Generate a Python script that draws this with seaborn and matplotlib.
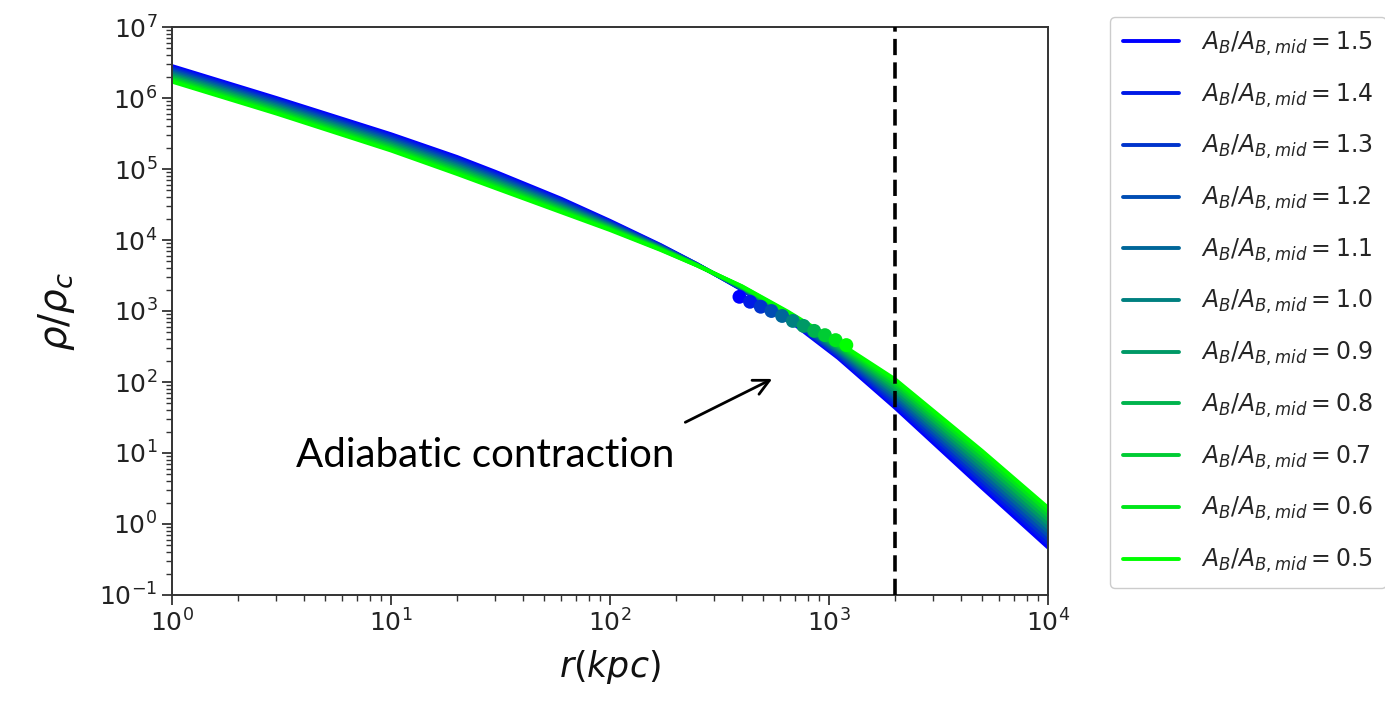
import numpy as np
import pandas as pd
import matplotlib
matplotlib.use("Agg")
import matplotlib.pyplot as plt
import seaborn as sns

# ---- data ----
r_kpc = [1, 3, 10, 20, 30, 60, 100, 170, 250, 400, 650, 1100, 2000, 5000, 10000]

ratios = ["1.5", "1.4", "1.3", "1.2", "1.1", "1.0", "0.9", "0.8", "0.7", "0.6", "0.5"]

log_rho_15 = [6.450, 6.000, 5.490, 5.170, 4.960, 4.580, 4.270, 3.930, 3.660, 3.300, 2.880, 2.340, 1.640, 0.510, -0.330]
log_rho_14 = [6.428, 5.978, 5.467, 5.146, 4.937, 4.561, 4.257, 3.923, 3.658, 3.305, 2.891, 2.362, 1.680, 0.562, -0.274]
log_rho_13 = [6.406, 5.956, 5.444, 5.122, 4.914, 4.542, 4.244, 3.916, 3.656, 3.310, 2.902, 2.384, 1.720, 0.614, -0.218]
log_rho_12 = [6.384, 5.934, 5.421, 5.098, 4.891, 4.523, 4.231, 3.909, 3.654, 3.315, 2.913, 2.406, 1.760, 0.666, -0.162]
log_rho_11 = [6.362, 5.912, 5.398, 5.074, 4.868, 4.504, 4.218, 3.902, 3.652, 3.320, 2.924, 2.428, 1.800, 0.718, -0.106]
log_rho_10 = [6.340, 5.890, 5.375, 5.050, 4.845, 4.485, 4.205, 3.895, 3.650, 3.325, 2.935, 2.450, 1.840, 0.770, -0.050]
log_rho_09 = [6.318, 5.868, 5.352, 5.026, 4.822, 4.466, 4.192, 3.888, 3.648, 3.330, 2.946, 2.472, 1.880, 0.822, 0.006]
log_rho_08 = [6.296, 5.846, 5.329, 5.002, 4.799, 4.447, 4.179, 3.881, 3.646, 3.335, 2.957, 2.494, 1.920, 0.874, 0.062]
log_rho_07 = [6.274, 5.824, 5.306, 4.978, 4.776, 4.428, 4.166, 3.874, 3.644, 3.340, 2.968, 2.516, 1.960, 0.926, 0.118]
log_rho_06 = [6.252, 5.802, 5.283, 4.954, 4.753, 4.409, 4.153, 3.867, 3.642, 3.345, 2.979, 2.538, 2.000, 0.978, 0.174]
log_rho_05 = [6.230, 5.780, 5.260, 4.930, 4.730, 4.390, 4.140, 3.860, 3.640, 3.350, 2.990, 2.560, 2.040, 1.030, 0.230]

dot_r = [390, 436, 488, 546, 611, 684, 765, 856, 958, 1072, 1200]
dot_log_rho = [3.20, 3.13, 3.06, 3.00, 2.93, 2.86, 2.79, 2.72, 2.66, 2.59, 2.52]

r_marker = 2000
annotation_text = "Adiabatic contraction"

curves = [log_rho_15, log_rho_14, log_rho_13, log_rho_12, log_rho_11, log_rho_10,
          log_rho_09, log_rho_08, log_rho_07, log_rho_06, log_rho_05]

# ---- style ----
sns.set_style("ticks")
plt.rcParams["font.family"] = ["DejaVu Sans"]
plt.rcParams["mathtext.fontset"] = "dejavusans"

fig = plt.figure(figsize=(13.85, 7.11), dpi=100)
ax = fig.add_axes([172 / 1385, 1 - 595 / 711, (1048 - 172) / 1385, (595 - 27) / 711])

n = len(curves)
colors = [(0.0, k / (n - 1), 1.0 - k / (n - 1)) for k in range(n)]

for k, (lab, vals) in enumerate(zip(ratios, curves)):
    df = pd.DataFrame({"r": r_kpc, "rho": np.power(10.0, vals)})
    sns.lineplot(data=df, x="r", y="rho", ax=ax, color=colors[k], lw=2.8,
                 sort=False, estimator=None,
                 label=r"$A_B/A_{B,mid} = %s$" % lab)
    sns.scatterplot(x=[dot_r[k]], y=[10.0 ** dot_log_rho[k]], ax=ax,
                    color=colors[k], s=100, edgecolor="none", zorder=3, legend=False)

ax.axvline(r_marker, color="black", ls="--", lw=2.6, dashes=(4.5, 2.0), zorder=4)

ax.set_xscale("log")
ax.set_yscale("log")
ax.set_xlim(1, 1e4)
ax.set_ylim(1e-1, 1e7)
ax.yaxis.set_major_locator(matplotlib.ticker.LogLocator(base=10, numticks=20))
ax.yaxis.set_minor_locator(matplotlib.ticker.LogLocator(base=10, subs=np.arange(2, 10), numticks=20))
ax.yaxis.set_minor_formatter(matplotlib.ticker.NullFormatter())

ax.tick_params(axis="both", which="major", labelsize=18, length=7, width=1.3,
               color="#333333", labelcolor="#222222")
ax.tick_params(axis="both", which="minor", length=4, width=1.0, color="#333333")
for sp in ax.spines.values():
    sp.set_linewidth(1.4)
    sp.set_color("#333333")

ax.set_xlabel(r"$r(kpc)$", fontsize=25, labelpad=8, color="#111111")
ax.set_ylabel(r"$\rho/\rho_c$", fontsize=28, labelpad=16, color="#111111")

# annotation
ax.text(3.67, 6.3, annotation_text, fontsize=29, family=["Lato", "DejaVu Sans"],
        ha="left", va="baseline", color="black")
ax.annotate("", xy=(565, 115), xytext=(215, 26),
            arrowprops=dict(arrowstyle="->", lw=2.0, color="black", mutation_scale=28))

# legend
handles, labels = ax.get_legend_handles_labels()
ax.legend_.remove()
fig.legend(handles, labels, loc="upper left", bbox_to_anchor=(1098 / 1385, 1 - 5 / 711),
           fontsize=17, handlelength=2.4, handletextpad=0.9, labelspacing=1.0,
           borderpad=0.55, frameon=True, framealpha=1.0, edgecolor="#cccccc",
           fancybox=True)

fig.savefig("out.png", dpi=100)
